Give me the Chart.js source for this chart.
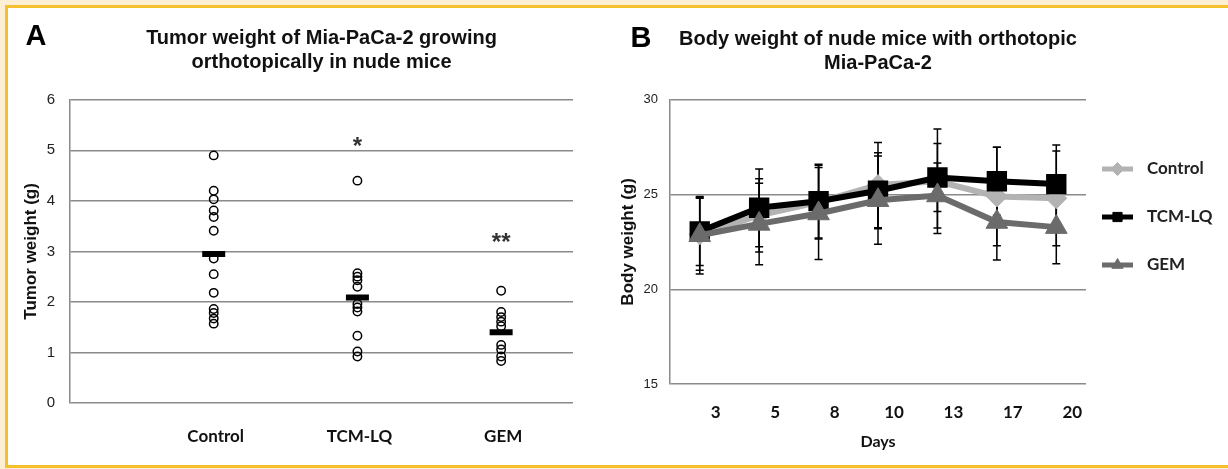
<!DOCTYPE html>
<html>
<head>
<meta charset="utf-8">
<title>Mia-PaCa-2 orthotopic model</title>
<script src="https://cdn.jsdelivr.net/npm/chart.js@4.4.1/dist/chart.umd.min.js"></script>
<style>
  html, body { margin: 0; padding: 0; }
  body { width: 1228px; height: 469px; background: #fcefd3; position: relative; overflow: hidden; }
  .frame { position: absolute; left: 5px; top: 5px; width: 1240px; height: 457px; border: 3px solid #f4c02e; background: #fff; }
  canvas { position: absolute; top: 0; }
  #tumorChart { left: 0; }
  #bodyChart { left: 610px; }
</style>
</head>
<body>
<div class="frame"></div>
<canvas id="tumorChart" width="610" height="469"></canvas>
<canvas id="bodyChart" width="618" height="469"></canvas>

<script>
// Panel A - tumor weight per mouse (g)
const groups = ['Control', 'TCM-LQ', 'GEM'];
const controlWeights = [4.9, 4.2, 4.03, 3.81, 3.68, 3.41, 2.86, 2.55, 2.18, 1.86, 1.78, 1.67, 1.57];
const tcmWeights = [4.4, 2.57, 2.5, 2.43, 2.3, 1.96, 1.89, 1.81, 1.33, 1.02, 0.92];
const gemWeights = [2.22, 1.8, 1.7, 1.61, 1.52, 1.15, 1.06, 0.92, 0.83];
const groupMeans = [2.95, 2.09, 1.4];
const sigMarks = ['', '*', '**'];
const sigHeights = [null, 5.2, 3.3];
const weightTicks = [0, 1, 2, 3, 4, 5, 6];

// Panel B - body weight (g), mean and SD
const days = ['3', '5', '8', '10', '13', '17', '20'];
const controlBody = [22.9, 23.9, 24.6, 25.5, 25.7, 24.9, 24.8];
const controlSd = [1.9, 1.93, 1.95, 2.25, 2.76, 2.6, 2.5];
const tcmBody = [23.05, 24.3, 24.65, 25.2, 25.9, 25.7, 25.55];
const tcmSd = [1.8, 2.05, 1.95, 2.0, 1.8, 1.8, 2.07];
const gemBody = [22.85, 23.45, 24.0, 24.7, 24.95, 23.55, 23.28];
const gemSd = [2.05, 2.15, 2.43, 2.33, 1.72, 2.0, 1.93];
const bodyTicks = [15, 20, 25, 30];

const ARIAL = '"Liberation Sans", Arial, sans-serif';
const CALIBRI = 'Lato, "Open Sans", sans-serif';
const GRID = '#8a8a8a';

Chart.defaults.font.family = ARIAL;
Chart.defaults.color = '#222';

// Big bold panel letter in the corner
const panelLetter = {
    id: 'panelLetter',
    afterDraw(chart, args, opts) {
        const ctx = chart.ctx;
        ctx.save();
        ctx.font = 'bold 29px ' + ARIAL;
        ctx.fillStyle = '#000';
        ctx.textAlign = 'center';
        ctx.textBaseline = 'middle';
        ctx.fillText(opts.text, opts.x, opts.y);
        ctx.restore();
    }
};

// Significance stars above the groups
const sigStars = {
    id: 'sigStars',
    afterDatasetsDraw(chart) {
        const ctx = chart.ctx;
        const xs = chart.scales.x, ys = chart.scales.y;
        ctx.save();
        ctx.font = 'bold 24px ' + ARIAL;
        ctx.fillStyle = '#333';
        ctx.textAlign = 'center';
        ctx.textBaseline = 'alphabetic';
        sigMarks.forEach((mark, i) => {
            if (!mark) return;
            const px = xs.getPixelForValue(i + 1);
            const py = ys.getPixelForValue(sigHeights[i]);
            ctx.fillText(mark, px, py + 0.58 * 24);
        });
        ctx.restore();
    }
};

// Vertical error bars with caps, drawn under the lines
const errorBars = {
    id: 'errorBars',
    beforeDatasetsDraw(chart) {
        const ctx = chart.ctx, ys = chart.scales.y;
        ctx.save();
        ctx.strokeStyle = '#000';
        ctx.lineWidth = 1.5;
        chart.data.datasets.forEach((ds, i) => {
            chart.getDatasetMeta(i).data.forEach((pt, j) => {
                const top = ys.getPixelForValue(ds.data[j] + ds.sd[j]);
                const bot = ys.getPixelForValue(ds.data[j] - ds.sd[j]);
                ctx.beginPath();
                ctx.moveTo(pt.x, top); ctx.lineTo(pt.x, bot);
                ctx.moveTo(pt.x - 4, top); ctx.lineTo(pt.x + 4, top);
                ctx.moveTo(pt.x - 4, bot); ctx.lineTo(pt.x + 4, bot);
                ctx.stroke();
            });
        });
        ctx.restore();
    }
};

// Legend on the right: thick line with marker, then label
const sideLegend = {
    id: 'sideLegend',
    afterDraw(chart, args, opts) {
        const ctx = chart.ctx;
        ctx.save();
        chart.data.datasets.forEach((ds, i) => {
            const y = opts.top + i * opts.spacing;
            ctx.strokeStyle = ds.borderColor;
            ctx.fillStyle = ds.borderColor;
            ctx.lineWidth = 5;
            ctx.beginPath();
            ctx.moveTo(opts.x, y);
            ctx.lineTo(opts.x + 31, y);
            ctx.stroke();
            ctx.lineWidth = 1;
            Chart.helpers.drawPoint(ctx, {
                pointStyle: ds.pointStyle, rotation: 0, radius: 6.5, borderWidth: 1
            }, opts.x + 15.5, y);
            ctx.fillStyle = '#222';
            ctx.font = 'bold 17px ' + CALIBRI;
            ctx.textAlign = 'left';
            ctx.textBaseline = 'middle';
            ctx.fillText(ds.label, opts.x + 45, y);
        });
        ctx.restore();
    }
};

function groupPoints(values, g) {
    return values.map(v => ({ x: g, y: v }));
}

const circleStyle = {
    pointStyle: 'circle',
    pointRadius: 4.2,
    pointBorderWidth: 1.5,
    pointBorderColor: '#000',
    pointBackgroundColor: 'rgba(0,0,0,0)',
    showLine: false,
    order: 1
};

new Chart(document.getElementById('tumorChart'), {
    type: 'scatter',
    data: {
        datasets: [
            {
                label: 'Mean',
                data: groupMeans.map((m, i) => ({ x: i + 1, y: m })),
                pointStyle: 'line',
                pointRadius: 11.5,
                pointBorderWidth: 6,
                pointBorderColor: '#000',
                borderColor: '#000',
                showLine: false,
                order: 0
            },
            Object.assign({ label: groups[0], data: groupPoints(controlWeights, 1) }, circleStyle),
            Object.assign({ label: groups[1], data: groupPoints(tcmWeights, 2) }, circleStyle),
            Object.assign({ label: groups[2], data: groupPoints(gemWeights, 3) }, circleStyle)
        ]
    },
    options: {
        responsive: false,
        animation: false,
        events: [],
        layout: { padding: { left: 0, right: 37, top: 0, bottom: 0 } },
        plugins: {
            legend: { display: false },
            tooltip: { enabled: false },
            title: {
                display: true,
                fullSize: false,
                text: ['Tumor weight of Mia-PaCa-2 growing', 'orthotopically in nude mice'],
                color: '#111',
                font: { family: ARIAL, size: 20, weight: 'bold', lineHeight: 1.17 },
                padding: { top: 27, bottom: 26 }
            },
            panelLetter: { text: 'A', x: 36, y: 37 }
        },
        scales: {
            x: {
                type: 'linear',
                min: 0,
                max: 3.5,
                afterBuildTicks: scale => { scale.ticks = groups.map((g, i) => ({ value: i + 1 })); },
                afterFit: scale => { scale.height = 66; },
                grid: { display: false },
                border: { display: false },
                ticks: {
                    autoSkip: false,
                    maxRotation: 0,
                    padding: 15,
                    labelOffset: 2,
                    color: '#111',
                    font: { family: CALIBRI, size: 17, weight: 'bold' },
                    callback: value => groups[value - 1]
                }
            },
            y: {
                min: 0,
                max: 6,
                afterBuildTicks: scale => { scale.ticks = weightTicks.map(v => ({ value: v })); },
                afterFit: scale => { scale.width = 70; },
                grid: { color: GRID, lineWidth: 1.5, drawTicks: false },
                border: { display: true, color: GRID, width: 1.5 },
                ticks: { padding: 15, color: '#222', font: { size: 15 } },
                title: {
                    display: true,
                    text: 'Tumor weight (g)',
                    color: '#111',
                    font: { family: ARIAL, size: 17, weight: 'bold' },
                    padding: { top: 21, bottom: 0 }
                }
            }
        }
    },
    plugins: [panelLetter, sigStars]
});

new Chart(document.getElementById('bodyChart'), {
    type: 'line',
    data: {
        labels: days,
        datasets: [
            {
                label: 'Control',
                data: controlBody,
                sd: controlSd,
                borderColor: '#b3b3b3',
                backgroundColor: '#b3b3b3',
                borderWidth: 6,
                pointStyle: 'rectRot',
                pointRadius: 10.5,
                pointBorderWidth: 1,
                order: 3
            },
            {
                label: 'TCM-LQ',
                data: tcmBody,
                sd: tcmSd,
                borderColor: '#000000',
                backgroundColor: '#000000',
                borderWidth: 6,
                pointStyle: 'rect',
                pointRadius: 13,
                pointBorderWidth: 2,
                order: 2
            },
            {
                label: 'GEM',
                data: gemBody,
                sd: gemSd,
                borderColor: '#6b6b6b',
                backgroundColor: '#6b6b6b',
                borderWidth: 6,
                pointStyle: 'triangle',
                pointRadius: 12.5,
                pointBorderWidth: 1,
                order: 1
            }
        ]
    },
    options: {
        responsive: false,
        animation: false,
        events: [],
        elements: { line: { tension: 0 } },
        layout: { padding: { left: 0, right: 142, top: 0, bottom: 0 } },
        plugins: {
            legend: { display: false },
            tooltip: { enabled: false },
            title: {
                display: true,
                fullSize: false,
                text: ['Body weight of nude mice with orthotopic', 'Mia-PaCa-2'],
                color: '#111',
                font: { family: ARIAL, size: 20, weight: 'bold', lineHeight: 1.17 },
                padding: { top: 28, bottom: 25 }
            },
            panelLetter: { text: 'B', x: 31, y: 39 },
            sideLegend: { x: 492, top: 169, spacing: 48 }
        },
        scales: {
            x: {
                offset: true,
                afterFit: scale => { scale.height = 85; },
                grid: { display: false },
                border: { display: false },
                ticks: {
                    maxRotation: 0,
                    padding: 10,
                    labelOffset: 16,
                    color: '#111',
                    font: { family: CALIBRI, size: 17, weight: 'bold' }
                },
                title: {
                    display: true,
                    text: 'Days',
                    color: '#111',
                    font: { family: CALIBRI, size: 16, weight: 'bold' },
                    padding: { top: 0, bottom: 18 }
                }
            },
            y: {
                min: 15,
                max: 30,
                afterBuildTicks: scale => { scale.ticks = bodyTicks.map(v => ({ value: v })); },
                afterFit: scale => { scale.width = 60; },
                grid: { color: GRID, lineWidth: 1.5, drawTicks: false },
                border: { display: true, color: GRID, width: 1.5 },
                ticks: { padding: 12, color: '#222', font: { size: 13 } },
                title: {
                    display: true,
                    text: 'Body weight (g)',
                    color: '#111',
                    font: { family: ARIAL, size: 17, weight: 'bold' },
                    padding: { top: 8, bottom: 0 }
                }
            }
        }
    },
    plugins: [panelLetter, errorBars, sideLegend]
});
</script>
</body>
</html>
